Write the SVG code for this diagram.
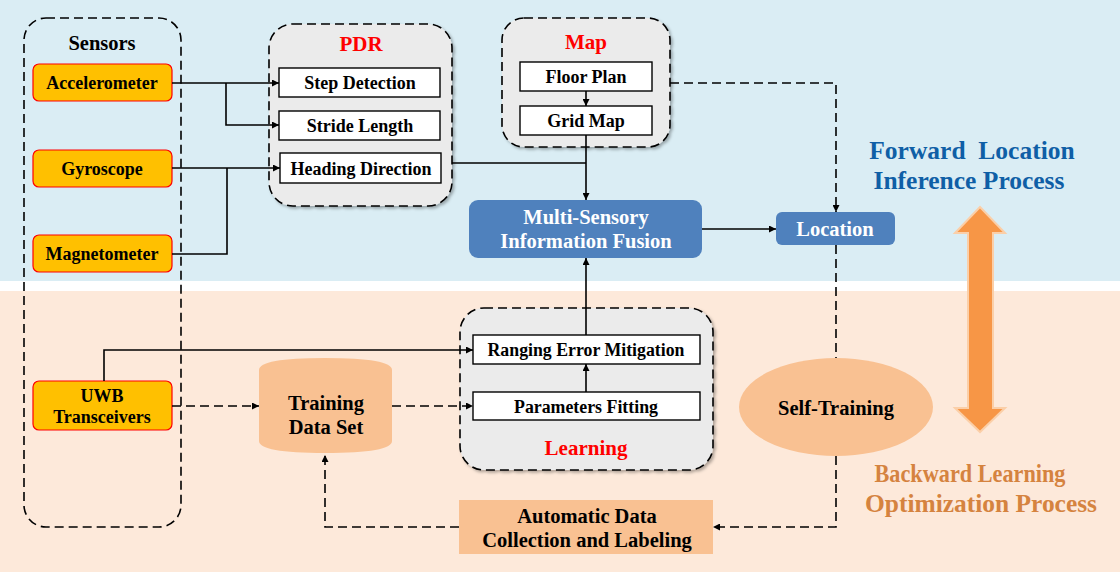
<svg xmlns="http://www.w3.org/2000/svg" width="1120" height="572" viewBox="0 0 1120 572">
<defs>
<marker id="ah" viewBox="0 0 10 10" refX="10" refY="5" markerWidth="7" markerHeight="7" orient="auto" markerUnits="userSpaceOnUse"><path d="M0,0 L10,5 L0,10 Z" fill="#000"/></marker>
<filter id="sh" x="-10%" y="-10%" width="125%" height="125%"><feDropShadow dx="2" dy="2" stdDeviation="1.5" flood-color="#000" flood-opacity="0.3"/></filter>
</defs>
<style>
text{font-family:"Liberation Serif","Times New Roman",serif;font-weight:bold;text-anchor:middle;dominant-baseline:central}
.grp{fill:#EBEBEB;stroke:#000;stroke-width:1.6;stroke-dasharray:9 5}
.sens{fill:#FFC000;stroke:#FF0000;stroke-width:1.2}
.sub{fill:#FFF;stroke:#000;stroke-width:1.4}
.blue{fill:#4F81BD}
.peach{fill:#F9C192}
.ln{fill:none;stroke:#000;stroke-width:1.6}
.dl{fill:none;stroke:#000;stroke-width:1.6;stroke-dasharray:9 5}
.t18{font-size:18px;fill:#000}
.t20{font-size:20.5px;fill:#000}
.red{font-size:21px;fill:#FF0000}
.wt{font-size:20.5px;fill:#FFF}
.fw{font-size:25.5px;fill:#0F5FA6}
.bw{font-size:26px;fill:#D5833F}
</style>
<rect x="0" y="0" width="1120" height="281" fill="#DAEDF4"/>
<rect x="0" y="281" width="1120" height="10" fill="#FFFFFF"/>
<rect x="0" y="291" width="1120" height="281" fill="#FDE9DA"/>

<g id="sensors">
<rect x="24" y="18" width="157" height="509" rx="22" fill="none" stroke="#000" stroke-width="1.6" stroke-dasharray="9 5"/>
<text x="102" y="43" class="t20">Sensors</text>
</g>
<g id="accelerometer"><rect class="sens" x="33" y="64" width="139" height="37" rx="6"/><text x="102" y="83" class="t18">Accelerometer</text></g>
<g id="gyroscope"><rect class="sens" x="33" y="150" width="139" height="37" rx="6"/><text x="102" y="169" class="t18">Gyroscope</text></g>
<g id="magnetometer"><rect class="sens" x="33" y="235" width="139" height="37" rx="6"/><text x="102" y="254" class="t18">Magnetometer</text></g>
<g id="uwb"><rect class="sens" x="33" y="381" width="139" height="49" rx="6"/><text x="102" y="396" class="t18">UWB</text><text x="102" y="417" class="t18">Transceivers</text></g>

<g id="pdr">
<rect class="grp" x="269" y="24" width="183" height="182" rx="24" filter="url(#sh)"/>
<text x="361" y="44" class="red">PDR</text>
<rect class="sub" x="279" y="68" width="161" height="29"/><text x="360" y="83" class="t18">Step Detection</text>
<rect class="sub" x="279" y="111" width="161" height="29"/><text x="360" y="126" class="t18">Stride Length</text>
<rect class="sub" x="280" y="153" width="161" height="30"/><text x="361" y="169" class="t18">Heading Direction</text>
</g>

<g id="map">
<rect class="grp" x="502" y="18" width="168" height="129" rx="22" filter="url(#sh)"/>
<text x="586" y="42" class="red">Map</text>
<rect class="sub" x="520" y="62" width="132" height="29"/><text x="586" y="77" class="t18">Floor Plan</text>
<rect class="sub" x="520" y="106" width="132" height="29"/><text x="586" y="121" class="t18">Grid Map</text>
</g>

<g id="fusion">
<rect class="blue" x="469" y="200" width="233" height="58" rx="9"/>
<text x="586" y="217" class="wt">Multi-Sensory</text>
<text x="586" y="241" class="wt">Information Fusion</text>
</g>

<g id="location">
<rect class="blue" x="776" y="212" width="119" height="33" rx="6"/>
<text x="835" y="229" class="wt">Location</text>
</g>

<g id="learning">
<rect class="grp" x="460" y="308" width="253" height="162" rx="24" filter="url(#sh)"/>
<rect class="sub" x="473" y="335" width="227" height="29"/><text x="586" y="350" class="t18" textLength="197" lengthAdjust="spacingAndGlyphs">Ranging Error Mitigation</text>
<rect class="sub" x="473" y="392" width="227" height="28"/><text x="586" y="407" class="t18" textLength="144" lengthAdjust="spacingAndGlyphs">Parameters Fitting</text>
<text x="586" y="448" class="red">Learning</text>
</g>

<g id="training">
<path class="peach" d="M259,370 Q259,358 325,358 Q392,358 392,370 L392,441 Q392,453 325,453 Q259,453 259,441 Z"/>
<text x="326" y="403" class="t20">Training</text>
<text x="326" y="427" class="t20">Data Set</text>
</g>

<g id="selftraining">
<ellipse class="peach" cx="836" cy="407" rx="97" ry="49"/>
<text x="836" y="408" class="t20">Self-Training</text>
</g>

<g id="autodata">
<rect class="peach" x="459" y="500" width="254" height="54"/>
<text x="587" y="516" class="t20">Automatic Data</text>
<text x="587" y="540" class="t20">Collection and Labeling</text>
</g>

<g id="forward">
<text x="972" y="150" class="fw" xml:space="preserve">Forward  Location</text>
<text x="969" y="180" class="fw">Inference Process</text>
</g>
<g id="backward">
<text x="970" y="473" class="bw" textLength="191" lengthAdjust="spacingAndGlyphs">Backward Learning</text>
<text x="981" y="503" class="bw" textLength="232" lengthAdjust="spacingAndGlyphs">Optimization Process</text>
</g>

<g id="bidir">
<path d="M980,207 L1005,233 L993,233 L993,408 L1005,408 L980,432 L955,408 L968,408 L968,233 L955,233 Z" fill="#F79646" stroke="#FBCFA8" stroke-width="2"/>
</g>

<g id="connectors">
<path class="ln" d="M172,83 L279,83" marker-end="url(#ah)"/>
<path class="ln" d="M226,83 L226,125 L279,125" marker-end="url(#ah)"/>
<path class="ln" d="M172,168 L280,168" marker-end="url(#ah)"/>
<path class="ln" d="M172,254 L227,254 L227,168"/>
<path class="ln" d="M452,163 L586,163"/>
<path class="ln" d="M586,135 L586,200" marker-end="url(#ah)"/>
<path class="ln" d="M586,91 L586,106" marker-end="url(#ah)"/>
<path class="ln" d="M702,229 L776,229" marker-end="url(#ah)"/>
<path class="dl" d="M670,83 L836,83 L836,212" marker-end="url(#ah)"/>
<path class="dl" d="M836,245 L836,358"/>
<path class="dl" d="M836,456 L836,527 L713,527" marker-end="url(#ah)"/>
<path class="dl" d="M459,527 L325,527 L325,455" marker-end="url(#ah)"/>
<path class="ln" d="M586,335 L586,258" marker-end="url(#ah)"/>
<path class="ln" d="M586,392 L586,364" marker-end="url(#ah)"/>
<path class="ln" d="M104,381 L104,350 L473,350" marker-end="url(#ah)"/>
<path class="dl" d="M172,406 L259,406" marker-end="url(#ah)"/>
<path class="dl" d="M392,406 L473,406" marker-end="url(#ah)"/>
</g>
</svg>
